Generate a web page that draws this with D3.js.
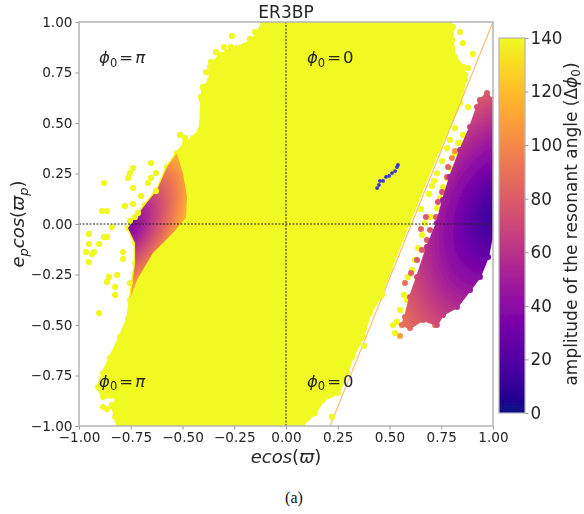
<!DOCTYPE html>
<html><head><meta charset="utf-8">
<script src="https://cdnjs.cloudflare.com/ajax/libs/d3/7.8.5/d3.min.js"></script>
<style>html,body{margin:0;background:#fff}svg{display:block}text{font-family:"DejaVu Sans";fill:#262626}</style>
</head><body><svg id="c" width="584" height="514"></svg>
<script>
const xTicks=[-1,-0.75,-0.5,-0.25,0,0.25,0.5,0.75,1];
const yTicks=[-1,-0.75,-0.5,-0.25,0,0.25,0.5,0.75,1];
const cTicks=[0,20,40,60,80,100,120,140];
const mainRegion=[[-.111,1.02],[.778,1.02],[.807,.975],[.802,.911],[.816,.827],[.855,.777],[.865,.713],[.841,.599],[.735,.366],[.59,0],[.502,-.228],[.454,-.361],[.406,-.441],[.372,-.559],[.319,-.658],[.295,-.738],[.251,-.837],[.179,-.871],[.14,-.936],[.077,-.995],[.068,-1.03],[-.802,-1.03],[-.826,-.955],[-.836,-.906],[-.816,-.856],[-.884,-.856],[-.908,-.807],[-.884,-.738],[-.85,-.663],[-.802,-.559],[-.763,-.465],[-.754,-.376],[-.729,-.193],[-.729,-.094],[-.763,-.02],[-.744,.01],[-.681,.094],[-.623,.168],[-.575,.282],[-.527,.351],[-.488,.401],[-.449,.426],[-.415,.465],[-.406,.614],[-.401,.673],[-.367,.713],[-.367,.777],[-.319,.837],[-.237,.871],[-.159,.911],[-.111,.995]];
const leftLobe=[[-.527,.351],[-.575,.282],[-.623,.168],[-.681,.094],[-.744,.01],[-.763,-.02],[-.729,-.094],[-.729,-.193],[-.754,-.376],[-.72,-.277],[-.643,-.144],[-.546,-.045],[-.483,.03],[-.478,.134],[-.498,.252]];
const rightLobe=[[.971,.649],[.937,.614],[.923,.579],[.889,.48],[.841,.366],[.792,.233],[.758,.119],[.729,.005],[.681,-.114],[.633,-.262],[.599,-.361],[.575,-.46],[.56,-.5],[.599,-.515],[.662,-.475],[.729,-.5],[.758,-.45],[.826,-.411],[.889,-.327],[.937,-.262],[.976,-.163],[.995,-.064],[1.005,.55],[.995,.614]];
const leftCore=[-.763,-.025], leftAmps=[35,50,60,70,80,90,100,110,120,130,140];
const rightCore=[1.01,.045], rightAmps=[10,20,30,40,50,60,70,80,90,100,110,120,130,140];
const yellowDots=[[-.512,.441],[-.488,.426],[-.739,.277],[-.754,.252],[-.763,.228],[-.652,.302],[-.628,.252],[-.652,.228],[-.667,.203],[-.879,.203],[-.739,.178],[-.7,.139],[-.628,.163],[-.778,.089],[-.739,.099],[-.889,.064],[-.865,.064],[-.715,.054],[-.729,.035],[-.754,.015],[-.841,-.015],[-.952,-.05],[-.879,-.064],[-.865,-.064],[-.952,-.099],[-.903,-.099],[-.928,-.139],[-.966,-.139],[-.937,-.149],[-.952,-.188],[-.787,-.139],[-.787,-.173],[-.816,-.252],[-.855,-.262],[-.865,-.287],[-.826,-.312],[-.826,-.351],[-.754,-.292],[-.903,-.441],[-.884,-.906],[-.865,-.916],[-.841,-.896],
[-.261,.931],[-.15,.95],[-.174,.916],[-.3,.876],[-.266,.876],[-.338,.851],[-.285,.851],[-.362,.802],[-.386,.752],[-.401,.678],[-.411,.629],
[.841,.95],[.855,.896],[.903,.842],[.879,.772],[.865,.738],[.879,.579],
[.816,.475],[.855,.441],[.792,.416],[.831,.401],[.778,.376],[.754,.312],[.729,.252],[.715,.213],[.705,.188],[.691,.149],[.652,.074],[.57,-.351],[.585,-.376],[.551,-.426],[.536,-.485],[.517,-.5],[.527,-.54],
[.841,.401],[.816,.351],[.792,.277],[.778,.228],[.758,.183],[.744,.129],[.729,.079],[.696,.035],[.671,.005],[.657,-.054],[.638,-.119],[.623,-.178],[.609,-.228],[.589,-.262],
[.222,-.955],[.377,-.604],[.464,-.351]];
const ampDots=[[.816,.361,105],[.802,.327,100],[.783,.282,85],[.778,.233,80],[.754,.158,75],[.734,.109,75],[.725,.035,80],[.676,.035,80],[.652,-.025,85],[.696,-.03,80],[.681,-.079,80],[.657,-.129,80],[.633,-.178,80],[.604,-.243,85],[.575,-.292,90],[.551,-.554,110],[.72,-.5,90],[.758,-.45,80],[.985,.53,95]];
const blueChain=[[.44,.178],[.449,.193],[.454,.213],[.469,.213],[.483,.233],[.498,.238],[.512,.252],[.527,.262],[.536,.282],[.541,.292]];
const limitLine=[[.213,-1],[1,1]];
const notes=[[-.903,.797,"π"],[.101,.797,"0"],[-.903,-.805,"π"],[.101,-.805,"0"]];

const svg=d3.select("#c");
const defs=svg.append("defs");
const x=d3.scaleLinear().domain([-1,1]).range([79,493]);
const y=d3.scaleLinear().domain([-1,1]).range([426,22]);
const c=d3.scaleLinear().domain([0,140]).range([413,38]);
const col=a=>d3.interpolatePlasma(a/140);
const YEL=col(140);
defs.append("filter").attr("id","soft").attr("x","-5%").attr("y","-5%").attr("width","110%").attr("height","110%")
  .append("feGaussianBlur").attr("stdDeviation",0.45);
defs.append("clipPath").attr("id","box").append("rect").attr("x",79).attr("y",22).attr("width",414).attr("height",404);
function radial(id,core,amps,rot,a,b,pow){
  const g=defs.append("radialGradient").attr("id",id).attr("gradientUnits","userSpaceOnUse")
    .attr("cx",0).attr("cy",0).attr("r",1)
    .attr("gradientTransform",`translate(${x(core[0])},${y(core[1])}) rotate(${rot}) scale(${a},${b})`);
  const lo=amps[0],hi=amps[amps.length-1];
  amps.forEach(v=>g.append("stop").attr("offset",Math.pow((v-lo)/(hi-lo),pow)).attr("stop-color",col(v)));
}
radial("gl",leftCore,leftAmps,-57,110,58,0.85);
radial("gr",rightCore,rightAmps,-70,235,150,0.85);
const cg=defs.append("linearGradient").attr("id","cb").attr("x1",0).attr("x2",0).attr("y1",1).attr("y2",0);
d3.range(0,141,10).forEach(v=>cg.append("stop").attr("offset",v/140).attr("stop-color",col(v)));

const root=svg.append("g").attr("filter","url(#soft)");
const plot=root.append("g").attr("clip-path","url(#box)");
const line=d3.line().x(d=>x(d[0])).y(d=>y(d[1]));
const poly=d3.line().x(d=>x(d[0])).y(d=>y(d[1])).curve(d3.curveLinearClosed);
plot.append("path").attr("d",poly(mainRegion)).attr("fill",YEL).attr("stroke",YEL).attr("stroke-width",3).attr("stroke-linejoin","round");
plot.selectAll(".mr").data(mainRegion).join("circle").attr("cx",d=>x(d[0])).attr("cy",d=>y(d[1])).attr("r",3).attr("fill",YEL);
plot.append("path").attr("d",poly(leftLobe)).attr("fill","url(#gl)");
plot.append("path").attr("d",line(limitLine)).attr("stroke","#fdb96a").attr("stroke-width",1.1).attr("fill","none");
plot.selectAll(".yd").data(yellowDots).join("circle").attr("cx",d=>x(d[0])).attr("cy",d=>y(d[1])).attr("r",3.1).attr("fill",YEL);
plot.selectAll(".ad").data(ampDots).join("circle").attr("cx",d=>x(d[0])).attr("cy",d=>y(d[1])).attr("r",3).attr("fill",d=>col(d[2]));
plot.append("path").attr("d",poly(rightLobe)).attr("fill","url(#gr)").attr("stroke","url(#gr)").attr("stroke-width",2).attr("stroke-linejoin","round");
plot.selectAll(".rl").data(rightLobe).join("circle").attr("cx",d=>x(d[0])).attr("cy",d=>y(d[1])).attr("r",3).attr("fill","url(#gr)");
plot.selectAll(".bd").data(blueChain).join("circle").attr("cx",d=>x(d[0])).attr("cy",d=>y(d[1])).attr("r",1.9).attr("fill","#3535d8");
plot.append("line").attr("x1",x(-1)).attr("x2",x(1)).attr("y1",y(0)).attr("y2",y(0)).attr("stroke","#222").attr("stroke-width",1).attr("stroke-dasharray","2,1.5");
plot.append("line").attr("y1",y(-1)).attr("y2",y(1)).attr("x1",x(0)).attr("x2",x(0)).attr("stroke","#222").attr("stroke-width",1).attr("stroke-dasharray","2,1.5");

const fmt=d=>d3.format(".2f")(d).replace("-","\u2212");
const ax=root.append("g").attr("transform","translate(0,426)").call(d3.axisBottom(x).tickValues(xTicks).tickFormat(fmt).tickSize(3.5).tickPadding(3));
const ay=root.append("g").attr("transform","translate(79,0)").call(d3.axisLeft(y).tickValues(yTicks).tickFormat(fmt).tickSize(3.5).tickPadding(3));
[ax,ay].forEach(g=>{g.select(".domain").remove();g.selectAll("line").attr("stroke","#999");g.selectAll("text").attr("font-size",13.6).attr("font-family","DejaVu Sans").attr("fill","#262626")});
root.append("rect").attr("x",79).attr("y",22).attr("width",414).attr("height",404).attr("fill","none").attr("stroke","#b4b4b4").attr("stroke-width",1.5);

root.append("rect").attr("x",499).attr("y",38).attr("width",26).attr("height",375).attr("fill","url(#cb)").attr("stroke","#b4b4b4").attr("stroke-width",1.2);
const ac=root.append("g").attr("transform","translate(525,0)").call(d3.axisRight(c).tickValues(cTicks).tickSize(3.5).tickPadding(2));
ac.select(".domain").remove();ac.selectAll("line").attr("stroke","#999");ac.selectAll("text").attr("font-size",16.8).attr("font-family","DejaVu Sans").attr("fill","#262626");

root.append("text").attr("x",286).attr("y",18).attr("text-anchor","middle").attr("font-size",17).text("ER3BP");
const xl=root.append("text").attr("x",286).attr("y",463).attr("text-anchor","middle").attr("font-size",18);
xl.append("tspan").attr("font-style","italic").text("ecos");xl.append("tspan").text("(");xl.append("tspan").attr("font-style","italic").text("ϖ");xl.append("tspan").text(")");
const yl=root.append("text").attr("transform","translate(24,224) rotate(-90)").attr("text-anchor","middle").attr("font-size",18);
yl.append("tspan").attr("font-style","italic").text("e");yl.append("tspan").attr("font-style","italic").attr("font-size",13).attr("dy",4).text("p");
yl.append("tspan").attr("font-style","italic").attr("dy",-4).text("cos");yl.append("tspan").text("(");yl.append("tspan").attr("font-style","italic").text("ϖ");
yl.append("tspan").attr("font-style","italic").attr("font-size",13).attr("dy",4).text("p");yl.append("tspan").attr("dy",-4).text(")");
const cl=root.append("text").attr("transform","translate(577,224) rotate(-90)").attr("text-anchor","middle").attr("font-size",17);
cl.append("tspan").text("amplitude of the resonant angle (Δ");cl.append("tspan").attr("font-style","italic").text("ϕ");
cl.append("tspan").attr("font-size",12).attr("dy",3).text("0");cl.append("tspan").attr("dy",-3).text(")");
notes.forEach(n=>{
  const t=root.append("text").attr("x",x(n[0])).attr("y",y(n[1])).attr("font-size",16.5).attr("fill","#1a1a1a");
  t.append("tspan").attr("font-style","italic").text("ϕ");t.append("tspan").attr("font-size",11.5).attr("dy",3.5).text("0");
  t.append("tspan").attr("dy",-3.5).attr("dx",2).text("=");t.append("tspan").attr("dx",2).attr("font-style",n[2]==="π"?"italic":"normal").text(n[2]);
});
svg.append("text").attr("x",294).attr("y",503).attr("text-anchor","middle").style("font-family","Liberation Serif").attr("font-size",16).style("fill","#111").text("(a)");
</script></body></html>
